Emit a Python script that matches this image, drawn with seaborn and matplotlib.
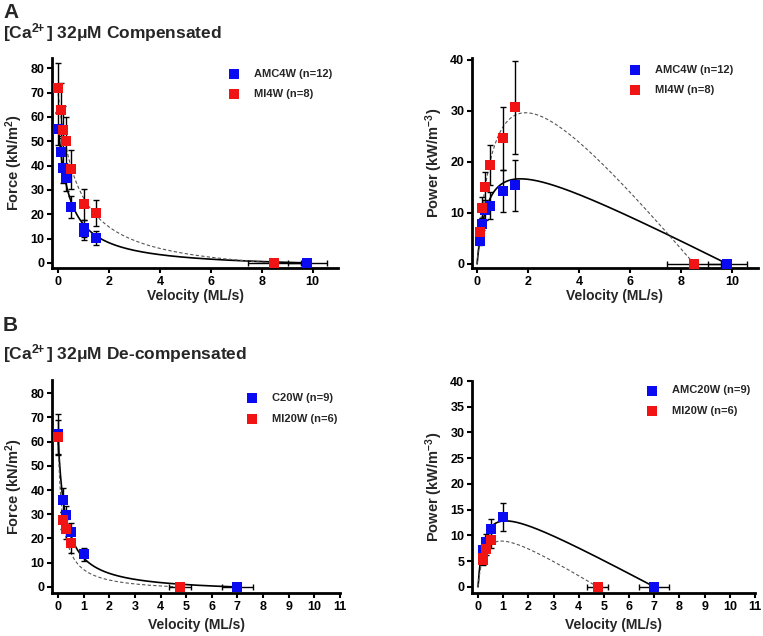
import numpy as np
import matplotlib
matplotlib.use("Agg")
import matplotlib.pyplot as plt
import seaborn as sns

sns.set_style("ticks")
plt.rcParams['font.family'] = ['Liberation Sans', 'DejaVu Sans']
plt.rcParams['font.weight'] = 'bold'
plt.rcParams['mathtext.fontset'] = 'custom'
plt.rcParams['mathtext.rm'] = 'Liberation Sans:bold'
plt.rcParams['mathtext.it'] = 'Liberation Sans:bold'
plt.rcParams['mathtext.bf'] = 'Liberation Sans:bold'

BLUE = '#0b0bf2'
RED = '#f01414'

# ---- Panel A: compensated ----
a_labels = ['AMC4W (n=12)', 'MI4W (n=8)']

a_force_blue_v = [0, 0.1, 0.2, 0.3, 0.5, 1.0, 1.0, 1.5, 9.8]
a_force_blue_f = [55, 45.5, 39, 35, 23, 14.2, 12.6, 10.3, 0]
a_force_blue_ferr = [6.5, 6, 6, 5.5, 4.5, 3.5, 3, 2.9, 0]
a_force_blue_verr = [0, 0, 0, 0, 0, 0, 0, 0, 0.77]

a_force_red_v = [0, 0.1, 0.2, 0.3, 0.5, 1.0, 1.5, 8.5]
a_force_red_f = [72, 63, 54.5, 50, 38.5, 24, 20.5, 0]
a_force_red_ferr = [10, 11, 10, 10, 8, 6.4, 5.5, 0]
a_force_red_verr = [0, 0, 0, 0, 0, 0, 0, 1.05]

a_power_blue_v = [0.1, 0.2, 0.3, 0.5, 1.0, 1.5, 9.8]
a_power_blue_p = [4.5, 7.8, 10.5, 11.4, 14.2, 15.4, 0]
a_power_blue_perr = [0.8, 1.2, 2, 2.6, 4.1, 5, 0]
a_power_blue_verr = [0, 0, 0, 0, 0, 0, 0.77]

a_power_red_v = [0.1, 0.2, 0.3, 0.5, 1.0, 1.5, 8.5]
a_power_red_p = [6.3, 11, 15, 19.3, 24.6, 30.7, 0]
a_power_red_perr = [1, 2, 3, 3.9, 6.2, 9.1, 0]
a_power_red_verr = [0, 0, 0, 0, 0, 0, 1.05]

# ---- Panel B: de-compensated ----
b_force_labels = ['C20W (n=9)', 'MI20W (n=6)']
b_power_labels = ['AMC20W (n=9)', 'MI20W (n=6)']

b_force_blue_v = [0, 0.2, 0.3, 0.5, 1.0, 7.0]
b_force_blue_f = [63, 36, 29.5, 22.5, 13.5, 0]
b_force_blue_ferr = [8.5, 5, 4, 3.8, 2.7, 0]
b_force_blue_verr = [0, 0, 0, 0, 0, 0.59]

b_force_red_v = [0, 0.2, 0.3, 0.5, 4.75]
b_force_red_f = [62, 27.5, 24, 18, 0]
b_force_red_ferr = [7, 3.5, 4.2, 3.9, 0]
b_force_red_verr = [0, 0, 0, 0, 0.43]

b_power_blue_v = [0.2, 0.3, 0.5, 1.0, 7.0]
b_power_blue_p = [7.2, 8.8, 11.3, 13.5, 0]
b_power_blue_perr = [1, 1.4, 1.9, 2.7, 0]
b_power_blue_verr = [0, 0, 0, 0, 0.59]

b_power_red_v = [0.2, 0.2, 0.3, 0.5, 4.75]
b_power_red_p = [5.2, 5.6, 7.4, 9.1, 0]
b_power_red_perr = [1, 1, 1.3, 1.5, 0]
b_power_red_verr = [0, 0, 0, 0, 0.43]

# Hill fit parameters (a, b, vmax): F = a*(vmax - V)/(V + b), P = F*V
a_fit_blue = (2.6, 0.45, 9.8)
a_fit_red = (6.3, 0.77, 8.5)
b_force_fit_blue = (2.57, 0.286, 7.0)
b_force_fit_red = (2.25, 0.172, 4.75)
b_power_fit_blue = (2.67, 0.252, 7.0)
b_power_fit_red = (3.08, 0.30, 4.75)


def hill(fit, power=False):
    a, b, vmax = fit
    v = np.linspace(0, vmax, 300)
    f = a * (vmax - v) / (v + b)
    return v, (f * v if power else f)


def panel(ax, blue, red, fits, labels, xlim, ylim, xticks, yticks, ylabel, power, legend_anchor, xlabelpad):
    (bv, by, byerr, bverr), (rv, ry, ryerr, rverr) = blue, red
    fb, fr = fits
    v, y = hill(fb, power)
    ax.plot(v, y, color='black', lw=1.2, zorder=1)
    v, y = hill(fr, power)
    ax.plot(v, y, color='#555555', lw=0.8, ls=(0, (3, 2)), zorder=1)
    for xs, ys, ye, xe in [(bv, by, byerr, bverr), (rv, ry, ryerr, rverr)]:
        ax.errorbar(xs, ys, yerr=ye, xerr=xe, fmt='none', ecolor='black',
                    elinewidth=1, capsize=2.5, capthick=1, zorder=2)
    sns.scatterplot(x=bv, y=by, color=BLUE, marker='s', s=45, linewidth=0,
                    label=labels[0], ax=ax, zorder=3)
    sns.scatterplot(x=rv, y=ry, color=RED, marker='s', s=45, linewidth=0,
                    label=labels[1], ax=ax, zorder=3)
    ax.set_xlim(*xlim)
    ax.set_ylim(*ylim)
    ax.set_xticks(xticks)
    ax.set_yticks(yticks)
    sns.despine(ax=ax)
    for s in ['left', 'bottom']:
        ax.spines[s].set_linewidth(2)
        ax.spines[s].set_color('black')
    ax.tick_params(direction='out', length=3.5, width=1.5, labelsize=9, pad=2, colors='black')
    ax.set_xlabel('Velocity (ML/s)', fontsize=10, fontweight='bold', labelpad=xlabelpad)
    ax.set_ylabel(ylabel, fontsize=10.5, fontweight='bold', labelpad=4)
    ax.legend(loc='upper left', bbox_to_anchor=legend_anchor, frameon=False,
              fontsize=8, handlelength=1.0, handletextpad=1.3, labelspacing=0.95,
              borderaxespad=0)


fig = plt.figure(figsize=(7.63, 6.36), dpi=100)
ax_af = fig.add_axes([0.0682, 0.5786, 0.3748, 0.3302])
ax_ap = fig.add_axes([0.6186, 0.5786, 0.3748, 0.3302])
ax_bf = fig.add_axes([0.0682, 0.0676, 0.3774, 0.3349])
ax_bp = fig.add_axes([0.6186, 0.0676, 0.3709, 0.3333])

force_label = r'Force (kN/m$^{2}$)'
power_label = r'Power (kW/m$^{-3}$)'
ca_label = r'[Ca$^{2\!\!+}$] 32μM '

panel(ax_af,
      (a_force_blue_v, a_force_blue_f, a_force_blue_ferr, a_force_blue_verr),
      (a_force_red_v, a_force_red_f, a_force_red_ferr, a_force_red_verr),
      (a_fit_blue, a_fit_red), a_labels,
      (-0.24, 11), (-2.1, 84.2), range(0, 11, 2), range(0, 81, 10),
      force_label, False, (0.6, 0.97), 1)
panel(ax_ap,
      (a_power_blue_v, a_power_blue_p, a_power_blue_perr, a_power_blue_verr),
      (a_power_red_v, a_power_red_p, a_power_red_perr, a_power_red_verr),
      (a_fit_blue, a_fit_red), a_labels,
      (-0.2, 11), (-0.8, 40.3), range(0, 11, 2), range(0, 41, 10),
      power_label, True, (0.535, 0.99), 1)
panel(ax_bf,
      (b_force_blue_v, b_force_blue_f, b_force_blue_ferr, b_force_blue_verr),
      (b_force_red_v, b_force_red_f, b_force_red_ferr, b_force_red_verr),
      (b_force_fit_blue, b_force_fit_red), b_force_labels,
      (-0.23, 11), (-2.5, 85.4), range(0, 12), range(0, 81, 10),
      force_label, False, (0.66, 0.96), 4)
panel(ax_bp,
      (b_power_blue_v, b_power_blue_p, b_power_blue_perr, b_power_blue_verr),
      (b_power_red_v, b_power_red_p, b_power_red_perr, b_power_red_verr),
      (b_power_fit_blue, b_power_fit_red), b_power_labels,
      (-0.24, 11), (-1.2, 40), range(0, 12), range(0, 41, 5),
      power_label, True, (0.6, 1.0), 4)

fig.text(0.004, 0.995, 'A', fontsize=15, fontweight='bold', va='top')
fig.text(0.004, 0.967, ca_label + 'Compensated', fontsize=12.5, fontweight='bold', va='top')
fig.text(0.004, 0.503, 'B', fontsize=15, fontweight='bold', va='top')
fig.text(0.004, 0.462, ca_label + 'De-compensated', fontsize=12.5, fontweight='bold', va='top')

fig.savefig('out.png', dpi=100)
